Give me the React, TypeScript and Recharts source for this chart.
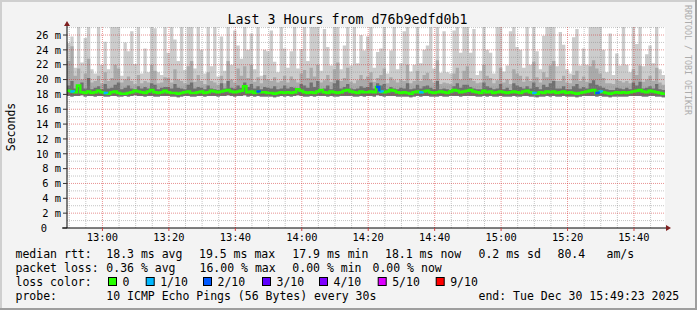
import React from 'react';
import { ComposedChart, Area, Line, XAxis, YAxis, CartesianGrid, ReferenceLine, ReferenceDot } from 'recharts';

const FONT = '"DejaVu Sans Mono", monospace';

// time axis: minutes after 12:00 (12:49:20 .. 15:49:20), one sample per minute
const startTime = 49 + 20 / 60;
const endTime = startTime + 180;

const smokeLow = [
  17.8,17.7,17.8,17.8,17.9,17.7,17.8,17.8,17.7,17.8,
  17.8,17.7,17.7,17.8,17.8,17.7,17.7,17.8,17.7,17.8,
  17.9,17.8,17.8,17.7,17.8,17.8,17.7,17.7,17.8,17.8,
  17.8,17.7,17.7,17.6,17.7,17.8,17.8,17.7,17.7,17.8,
  17.8,17.7,17.8,17.8,17.8,17.7,17.8,17.8,17.9,17.8,
  17.7,17.8,17.8,17.9,17.7,17.8,17.7,17.8,17.7,17.7,
  17.7,17.7,17.6,17.7,17.8,17.7,17.8,17.7,17.8,17.9,
  17.8,17.7,17.7,17.8,17.7,17.8,17.8,17.8,17.7,17.8,
  17.7,17.7,17.8,17.8,17.8,17.8,17.7,17.7,17.8,17.7,
  17.8,17.8,17.7,17.9,17.8,17.7,17.8,17.8,17.8,17.7,
  17.7,17.7,17.7,17.6,17.7,17.8,17.7,17.8,17.8,17.7,
  17.7,17.7,17.8,17.7,17.7,17.8,17.8,17.8,17.7,17.8,
  17.8,17.8,17.8,17.7,17.7,17.8,17.7,17.8,17.7,17.7,
  17.8,17.7,17.7,17.7,17.8,17.7,17.7,17.8,17.8,17.7,
  17.7,17.6,17.7,17.7,17.8,17.7,17.8,17.7,17.7,17.8,
  17.7,17.7,17.7,17.6,17.7,17.8,17.8,17.8,17.8,17.7,
  17.8,17.7,17.7,17.6,17.7,17.7,17.7,17.7,17.7,17.8,
  17.8,17.8,17.8,17.7,17.7,17.8,17.8,17.7,17.7,17.6,
];

const darkTop = [
  19.2,19.8,18.8,19.0,19.6,18.8,20.2,18.7,18.9,19.1,18.7,19.4,18.8,18.9,19.3,19.6,18.7,18.9,19.2,18.8,18.7,19.1,18.8,19.0,18.8,19.5,19.3,18.7,18.9,19.0,
  19.0,18.8,19.4,18.9,18.8,18.7,19.3,19.6,18.8,19.0,18.9,18.7,19.2,18.8,18.7,18.6,19.5,18.8,19.8,18.9,18.8,19.2,18.9,19.6,19.0,19.4,18.8,19.1,18.7,19.0,
  18.9,18.8,19.1,18.7,18.8,19.2,18.8,19.0,18.9,18.7,19.4,19.2,18.9,19.6,19.0,19.8,18.7,18.8,19.2,18.7,19.5,19.9,18.8,19.0,19.4,18.8,18.7,18.8,19.1,18.9,
  19.0,19.6,18.8,19.5,19.2,19.4,18.7,19.0,18.8,18.7,18.9,18.8,19.5,18.7,18.8,19.3,18.8,19.1,19.2,18.9,18.7,19.8,18.7,18.8,18.7,18.6,19.1,19.5,18.9,19.3,
  19.3,19.0,18.8,18.7,18.7,19.6,19.1,18.9,18.7,18.8,19.4,18.7,18.9,18.6,19.5,19.2,19.0,18.8,19.1,18.8,19.6,19.0,18.7,19.3,19.0,19.5,19.8,18.8,18.8,19.1,
  18.7,18.7,19.1,19.4,18.8,19.0,18.8,19.5,19.9,19.3,19.1,18.9,18.7,18.6,18.6,18.9,18.8,18.7,18.9,18.7,19.6,19.2,19.7,18.8,18.9,19.1,18.8,19.4,18.7,18.6,
];

const midTop = [
  22.5,24.5,20.5,21.5,20.0,20.8,22.8,19.6,19.8,20.5,19.5,21.0,19.8,20.2,22.0,21.5,19.6,20.0,20.4,19.8,19.4,20.6,19.5,19.8,19.6,22.0,21.2,19.5,19.6,20.3,
  20.2,19.6,21.4,20.0,19.8,19.5,21.8,22.5,19.7,20.6,19.8,19.4,21.0,19.8,19.6,19.3,20.5,19.5,22.5,20.0,19.6,21.5,20.5,21.8,20.2,22.0,19.7,20.3,19.5,20.6,
  20.0,19.8,20.3,19.6,19.8,20.5,19.6,20.4,20.0,19.6,20.8,21.3,20.2,21.6,20.4,22.0,19.6,19.9,20.6,19.7,21.4,22.3,19.8,20.2,21.6,19.7,19.5,19.9,20.6,20.0,
  20.4,21.0,19.7,20.2,20.6,21.5,19.5,20.3,19.9,19.6,20.0,19.8,22.0,19.5,19.8,21.2,19.8,20.6,20.9,20.0,19.6,22.6,19.4,19.6,19.5,19.4,20.8,21.6,20.0,21.2,
  21.8,20.2,19.8,19.5,19.6,22.0,20.5,20.2,19.5,19.9,21.6,19.6,20.0,19.4,21.4,20.8,20.5,19.7,20.4,19.8,22.4,20.3,19.6,21.0,20.3,21.9,22.5,19.8,19.8,20.5,
  19.6,19.5,20.6,21.2,19.8,20.4,19.7,21.8,22.6,21.5,20.8,20.2,19.5,19.5,19.4,20.0,19.8,19.6,19.8,19.5,21.4,20.6,21.9,19.7,20.0,20.5,19.8,21.6,19.6,19.3,
];

const lightTop = [
  24.9,25.8,21.6,27.5,22.3,25.6,27.5,21.4,20.8,27.5,22.0,25.1,21.4,27.5,27.5,27.5,20.5,25.0,23.8,26.5,22.1,27.5,20.8,24.2,21.0,27.5,26.9,21.0,20.6,27.5,
  23.6,27.5,25.4,22.5,27.5,21.3,27.5,27.5,21.5,27.5,24.0,20.8,27.5,21.8,27.5,20.4,25.8,21.2,27.5,22.0,26.6,24.6,22.8,27.5,24.0,26.2,21.4,27.5,20.5,24.0,
  23.8,26.6,22.4,21.0,27.5,24.2,21.6,23.8,27.5,21.5,24.1,27.5,22.5,27.5,27.5,27.5,21.2,26.8,24.4,21.9,27.5,27.5,21.4,24.6,27.5,21.9,27.5,22.2,26.0,23.9,
  25.8,27.5,21.6,23.7,24.2,27.5,20.8,23.9,27.5,21.4,22.2,26.5,27.5,21.1,22.0,27.5,22.2,24.0,24.6,27.5,21.5,27.5,20.9,26.5,21.0,20.8,26.6,27.5,23.6,27.5,
  27.5,23.6,26.8,20.6,21.2,27.5,24.0,23.6,20.8,27.5,27.5,21.1,21.9,26.5,27.5,24.4,24.0,21.6,27.5,22.0,27.5,23.8,21.4,25.9,27.5,27.5,27.5,21.8,26.4,24.7,
  21.4,20.8,25.7,26.8,21.9,24.2,22.0,27.5,27.5,27.5,27.5,24.0,21.0,26.2,20.6,23.5,21.9,27.5,22.0,21.0,27.5,24.8,27.5,21.8,23.4,24.6,22.2,27.5,21.4,20.6,
];

const medianRtt = [
  18.5,18.4,18.3,19.2,18.3,18.2,18.4,18.2,18.3,18.5,18.3,18.2,18.1,18.3,18.4,18.2,18.1,18.1,18.2,18.3,18.5,18.4,18.3,18.2,18.4,18.6,18.3,18.2,18.3,18.5,
  18.3,18.2,18.2,18.1,18.2,18.3,18.4,18.2,18.2,18.3,18.4,18.2,18.3,18.5,18.4,18.3,18.4,18.5,18.6,18.4,18.3,18.4,18.5,19.1,18.3,18.4,18.2,18.4,18.3,18.3,
  18.2,18.2,18.1,18.2,18.3,18.2,18.3,18.2,18.3,18.7,18.5,18.3,18.2,18.3,18.2,18.4,18.6,18.3,18.2,18.4,18.3,18.2,18.3,18.5,18.6,18.4,18.3,18.2,18.4,18.3,
  18.3,18.4,18.3,19.0,18.4,18.3,18.4,18.6,18.5,18.3,18.2,18.3,18.2,18.1,18.3,18.4,18.3,18.4,18.5,18.3,18.2,18.3,18.4,18.3,18.2,18.4,18.6,18.5,18.3,18.4,
  18.5,18.6,18.4,18.3,18.2,18.5,18.3,18.4,18.2,18.3,18.4,18.3,18.2,18.3,18.4,18.3,18.2,18.4,18.5,18.3,18.2,18.1,18.3,18.2,18.4,18.3,18.4,18.2,18.3,18.4,
  18.2,18.3,18.2,18.1,18.2,18.3,18.4,18.5,18.6,18.2,18.4,18.3,18.2,18.1,18.2,18.3,18.2,18.3,18.2,18.3,18.4,18.5,18.6,18.4,18.3,18.5,18.4,18.3,18.2,18.1,
];

const lossIndex = [1, 11, 57, 93, 94, 106, 140, 159, 160];
const lossCount = [1, 1, 2, 2, 1, 1, 1, 2, 1];

const xTicks = [60, 80, 100, 120, 140, 160, 180, 200, 220];
const xTickLabels = ['13:00', '13:20', '13:40', '14:00', '14:20', '14:40', '15:00', '15:20', '15:40'];
const xMinor = [50, 55, 65, 70, 75, 85, 90, 95, 105, 110, 115, 125, 130, 135, 145, 150, 155, 165, 170, 175, 185, 190, 195, 205, 210, 215, 225];
const yTicks = [0, 2, 4, 6, 8, 10, 12, 14, 16, 18, 20, 22, 24, 26];
const yMinor = [1, 3, 5, 7, 9, 11, 13, 15, 17, 19, 21, 23, 25, 27];
const yMax = 27.08;

const lossColorOf: Record<number, string> = { 1: '#00b8ff', 2: '#0059ff' };
const lossLegend = [
  { label: '0', color: '#26ff00' },
  { label: '1/10', color: '#00b8ff' },
  { label: '2/10', color: '#0059ff' },
  { label: '3/10', color: '#5e00ff' },
  { label: '4/10', color: '#7e00ff' },
  { label: '5/10', color: '#dd00ff' },
  { label: '9/10', color: '#ff0000' },
];

const title = 'Last 3 Hours from d76b9edfd0b1';
const rttStats = ['18.3 ms avg', '19.5 ms max', '17.9 ms min', '18.1 ms now', '0.2 ms sd', '80.4', 'am/s'];
const lossStats = ['0.36 % avg', '16.00 % max', '0.00 % min', '0.00 % now'];
const probeText = '10 ICMP Echo Pings (56 Bytes) every 30s';
const endText = 'end: Tue Dec 30 15:49:23 2025';

type Row = { [k: string]: number | null };
const rows: Row[] = medianRtt.map((m, i) => ({
  t: startTime + i,
  lo: smokeLow[i],
  L: lightTop[i],
  M: midTop[i],
  D: darkTop[i],
  med: m,
  loss: 0,
}));
lossIndex.forEach((idx, k) => { rows[idx].loss = lossCount[k]; });
rows.push({ ...rows[rows.length - 1], t: endTime, loss: 0 });
[1, 2].forEach((lv) => {
  rows.forEach((r, i) => {
    const on = r.loss === lv || (i > 0 && rows[i - 1].loss === lv);
    r['l' + lv] = on ? (r.med as number) : null;
  });
});

const YTick = (props: any) => {
  const { x, y, payload } = props;
  const v = payload.value;
  const label = v === 0 ? '0' : `${v} m`;
  return (
    <text x={v === 0 ? x - 13.9 : x} y={y} dy="0.36em" textAnchor="end" fontSize={10.4} fontFamily={FONT} fill="#000">
      {label}
    </text>
  );
};

const ArrowUp = (props: any) => {
  const { cx, cy } = props;
  return (
    <g>
      <line x1={cx} y1={cy} x2={cx} y2={cy - 2} stroke="#000" strokeWidth={1} />
      <path d={`M${cx - 3},${cy - 1} L${cx + 3},${cy - 1} L${cx},${cy - 6} Z`} fill="#7f1f1f" />
    </g>
  );
};
const ArrowRight = (props: any) => {
  const { cx, cy } = props;
  return (
    <g>
      <line x1={cx} y1={cy} x2={cx + 2} y2={cy} stroke="#000" strokeWidth={1} />
      <path d={`M${cx + 1},${cy - 3} L${cx + 1},${cy + 3} L${cx + 6},${cy} Z`} fill="#7f1f1f" />
    </g>
  );
};
const AxisStub = (props: any) => {
  const { cx, cy } = props;
  return <line x1={cx - 5} y1={cy} x2={cx} y2={cy} stroke="#000" strokeWidth={1} />;
};

const minorStroke = 'rgba(140,140,140,0.5)';
const majorStroke = 'rgba(210,40,40,0.5)';

export default function App() {
  const legendFont = { fontFamily: FONT, fontSize: 11.5, fill: '#000' } as const;
  const rowY = [258.3, 272.2, 286.1, 300];
  const rttX = [106.3, 199, 292.3, 385, 478.5, 557.5, 606.5];
  const lossX = [106.3, 199.5, 292.3, 372.5];
  const boxX = [108, 145.7, 203, 262, 319, 377.7, 435.7];
  return (
    <div style={{ position: 'absolute', left: 0, top: 0, width: 697, height: 310, background: '#f3f3f3', overflow: 'hidden' }}>
      <div style={{ position: 'absolute', left: 0, top: 0 }}>
        <ComposedChart width={697} height={310} data={rows} margin={{ top: 27, right: 32, bottom: 62, left: 0 }}>
          <CartesianGrid horizontal={false} vertical={false} fill="#ffffff" />
          <XAxis
            type="number"
            dataKey="t"
            domain={[startTime, endTime]}
            ticks={xTicks}
            tickFormatter={(v: number) => xTickLabels[xTicks.indexOf(v)] ?? ''}
            height={20}
            axisLine={{ stroke: '#000' }}
            tickLine={{ stroke: '#d04040' }}
            tickSize={3}
            tickMargin={3}
            tick={{ fill: '#000', fontSize: 10.4, fontFamily: FONT }}
            interval={0}
          />
          <YAxis
            type="number"
            domain={[0, yMax]}
            ticks={yTicks}
            allowDataOverflow
            width={67}
            axisLine={{ stroke: '#000' }}
            tickLine={{ stroke: '#333' }}
            tickSize={4}
            tickMargin={2}
            tick={<YTick />}
            interval={0}
          />
          <Area type="stepAfter" dataKey={(d: any) => [d.lo, d.L]} fill="#cccccc" fillOpacity={1} stroke="none" isAnimationActive={false} dot={false} activeDot={false} />
          <Area type="stepAfter" dataKey={(d: any) => [d.lo, d.M]} fill="#aaaaaa" fillOpacity={1} stroke="none" isAnimationActive={false} dot={false} activeDot={false} />
          <Area type="stepAfter" dataKey={(d: any) => [d.lo, d.D]} fill="#707070" fillOpacity={1} stroke="none" isAnimationActive={false} dot={false} activeDot={false} />
          {yMinor.map((v) => (
            <ReferenceLine key={'ym' + v} y={v} stroke={minorStroke} strokeDasharray="1 1" />
          ))}
          {xMinor.map((v) => (
            <ReferenceLine key={'xm' + v} x={v} stroke={minorStroke} strokeDasharray="1 1" />
          ))}
          {yTicks.filter((v) => v > 0).map((v) => (
            <ReferenceLine key={'yM' + v} y={v} stroke={majorStroke} strokeDasharray="1 1" />
          ))}
          {xTicks.map((v) => (
            <ReferenceLine key={'xM' + v} x={v} stroke={majorStroke} strokeDasharray="1 1" />
          ))}
          <Line type="stepAfter" dataKey="med" stroke="#26ff00" strokeWidth={2.5} dot={false} activeDot={false} isAnimationActive={false} />
          {[1, 2].map((lv) => (
            <Line key={'loss' + lv} type="stepAfter" dataKey={'l' + lv} stroke={lossColorOf[lv]} strokeWidth={2.5} dot={false} activeDot={false} connectNulls={false} isAnimationActive={false} />
          ))}
          <ReferenceDot x={startTime} y={yMax} r={0} shape={<ArrowUp />} />
          <ReferenceDot x={endTime} y={0} r={0} shape={<ArrowRight />} />
          <ReferenceDot x={startTime} y={0} r={0} shape={<AxisStub />} />
        </ComposedChart>
      </div>
      <svg width={697} height={310} style={{ position: 'absolute', left: 0, top: 0, pointerEvents: 'none' }}>
        <rect x={0} y={0} width={697} height={2} fill="#cfcfcf" />
        <rect x={0} y={0} width={2} height={310} fill="#cfcfcf" />
        <rect x={695} y={0} width={2} height={310} fill="#9e9e9e" />
        <rect x={0} y={308} width={697} height={2} fill="#9e9e9e" />
        <text x={347.5} y={24} textAnchor="middle" fontFamily={FONT} fontSize={13.3} fill="#000">{title}</text>
        <text x={15} y={127} textAnchor="middle" fontFamily={FONT} fontSize={11.5} fill="#000" transform="rotate(-90 15 127)">Seconds</text>
        <text x={685} y={60} textAnchor="middle" fontFamily={FONT} fontSize={8.3} fill="#acacac" transform="rotate(90 685 60)">RRDTOOL / TOBI OETIKER</text>

        <text x={15.5} y={rowY[0]} {...legendFont}>median rtt:</text>
        {rttStats.map((s, i) => (
          <text key={'r' + i} x={rttX[i]} y={rowY[0]} {...legendFont}>{s}</text>
        ))}
        <text x={15.5} y={rowY[1]} {...legendFont}>packet loss:</text>
        {lossStats.map((s, i) => (
          <text key={'p' + i} x={lossX[i]} y={rowY[1]} {...legendFont}>{s}</text>
        ))}
        <text x={15.5} y={rowY[2]} {...legendFont}>loss color:</text>
        {lossLegend.map((it, i) => (
          <g key={'c' + i}>
            <rect x={boxX[i] + 0.5} y={277.5} width={8} height={8} fill={it.color} stroke="#000" strokeWidth={1} />
            <text x={boxX[i] + 14.5} y={rowY[2]} {...legendFont}>{it.label}</text>
          </g>
        ))}
        <text x={15.5} y={rowY[3]} {...legendFont}>probe:</text>
        <text x={106.3} y={rowY[3]} {...legendFont}>{probeText}</text>
        <text x={478.5} y={rowY[3]} {...legendFont}>{endText}</text>
      </svg>
    </div>
  );
}
